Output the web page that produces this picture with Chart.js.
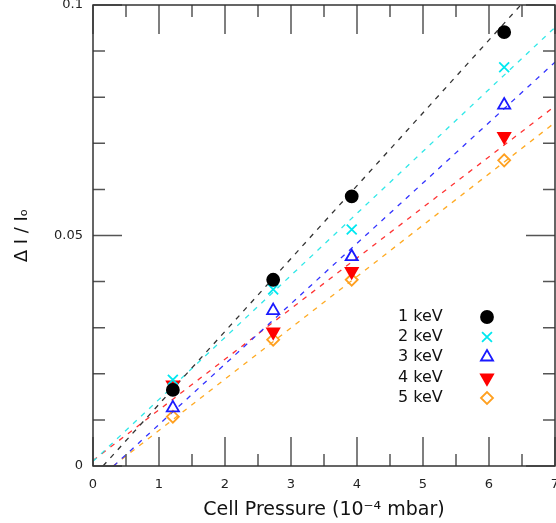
<!DOCTYPE html>
<html>
<head>
<meta charset="utf-8">
<script src="https://cdn.jsdelivr.net/npm/chart.js@4/dist/chart.umd.min.js"></script>
<style>
  html, body { margin: 0; padding: 0; background: #fff; }
  #wrap { width: 556px; height: 523px; position: relative; }
</style>
</head>
<body>
<div id="wrap"><canvas id="chart"></canvas></div>
<script>
// measured pressures (10^-4 mbar)
const pressures = [1.21, 2.73, 3.92, 6.23];

// Delta I / I0 for each beam energy
const labels = ['1 keV', '2 keV', '3 keV', '4 keV', '5 keV'];
const kev1 = [0.0165, 0.0404, 0.0585, 0.0941];
const kev2 = [0.0187, 0.0383, 0.0513, 0.0865];
const kev3 = [0.0126, 0.0337, 0.0454, 0.0783];
const kev4 = [0.0176, 0.0291, 0.0422, 0.0715];
const kev5 = [0.0107, 0.0274, 0.0404, 0.0663];

// linear fits
const fitSlopes = [0.0158, 0.01345, 0.0131, 0.01098, 0.01113];
const fitIntercepts = [-0.0024, 0.0010, -0.0041, 0.0012, -0.0034];

const xTicks = [0, 1, 2, 3, 4, 5, 6, 7];
const yTicks = [0, 0.05, 0.1];

const series = [kev1, kev2, kev3, kev4, kev5];
const pointColors = ['#000000', '#00e8f0', '#1a1aff', '#ff0000', '#ffa020'];
const lineColors = ['#333333', '#30e8e8', '#3333ff', '#ff3333', '#ffaa22'];
const styles = [
  { pointStyle: 'circle', radius: 6, fill: true, rotation: 0 },
  { pointStyle: 'crossRot', radius: 7, fill: false, rotation: 0 },
  { pointStyle: 'triangle', radius: 7, fill: false, rotation: 0 },
  { pointStyle: 'triangle', radius: 7, fill: true, rotation: 180 },
  { pointStyle: 'rectRot', radius: 6, fill: false, rotation: 0 }
];

const xMax = 7;

const datasets = [];

// dashed fit lines first, so markers sit on top
series.forEach(function (vals, i) {
  const m = fitSlopes[i];
  const b = fitIntercepts[i];
  const x0 = Math.max(0, -b / m);
  datasets.push({
    type: 'line',
    data: [{ x: x0, y: m * x0 + b }, { x: xMax, y: m * xMax + b }],
    borderColor: lineColors[i],
    borderWidth: 1.3,
    borderDash: [5, 6],
    pointRadius: 0,
    fill: false,
    order: 10
  });
});

series.forEach(function (vals, i) {
  const s = styles[i];
  datasets.push({
    type: 'scatter',
    label: labels[i],
    data: pressures.map((p, k) => ({ x: p, y: vals[k] })),
    pointStyle: s.pointStyle,
    pointRadius: s.radius,
    pointRotation: s.rotation,
    pointBorderColor: pointColors[i],
    pointBackgroundColor: s.fill ? pointColors[i] : 'rgba(0,0,0,0)',
    pointBorderWidth: 1.8,
    order: 1
  });
});

// frame with inward ticks on all four sides
const framePlugin = {
  id: 'frame',
  afterDatasetsDraw(chart) {
    const ctx = chart.ctx;
    const a = chart.chartArea;
    const xs = chart.scales.x;
    const ys = chart.scales.y;
    ctx.save();
    ctx.strokeStyle = '#555';
    ctx.lineWidth = 1.5;
    ctx.beginPath();
    for (let v = 0; v <= xMax + 0.001; v += 0.5) {
      const px = xs.getPixelForValue(v);
      const len = Math.abs(v - Math.round(v)) < 0.01 ? 29 : 12;
      ctx.moveTo(px, a.bottom); ctx.lineTo(px, a.bottom - len);
      ctx.moveTo(px, a.top); ctx.lineTo(px, a.top + len);
    }
    for (let k = 0; k <= 10; k++) {
      const v = k / 100;
      const py = ys.getPixelForValue(v);
      const len = k % 5 === 0 ? 29 : 12;
      ctx.moveTo(a.left, py); ctx.lineTo(a.left + len, py);
      ctx.moveTo(a.right, py); ctx.lineTo(a.right - len, py);
    }
    ctx.stroke();
    ctx.strokeStyle = '#333';
    ctx.strokeRect(a.left, a.top, a.right - a.left, a.bottom - a.top);
    ctx.restore();
  }
};

// key in the lower right of the plot
const keyPlugin = {
  id: 'key',
  afterDraw(chart) {
    const ctx = chart.ctx;
    const rows = [317, 337, 357, 378, 398];
    ctx.save();
    ctx.font = '16px "DejaVu Sans"';
    ctx.textBaseline = 'middle';
    labels.forEach(function (lab, i) {
      ctx.fillStyle = '#111';
      ctx.fillText(lab, 398, rows[i]);
      const s = styles[i];
      ctx.strokeStyle = pointColors[i];
      ctx.fillStyle = s.fill ? pointColors[i] : 'rgba(0,0,0,0)';
      ctx.lineWidth = 1.8;
      Chart.helpers.drawPoint(ctx, {
        pointStyle: s.pointStyle,
        radius: s.radius,
        rotation: s.rotation,
        borderWidth: 1.8
      }, 487, rows[i]);
    });
    ctx.restore();
  }
};

const ctx = document.getElementById('chart').getContext('2d');

const myChart = new Chart(ctx, {
  data: { datasets: datasets },
  plugins: [framePlugin, keyPlugin],
  options: {
    responsive: true,
    maintainAspectRatio: false,
    animation: false,
    layout: {
      autoPadding: false,
      padding: { top: 5, right: 1, left: 0, bottom: 0 }
    },
    plugins: {
      legend: { display: false },
      tooltip: { enabled: false }
    },
    scales: {
      x: {
        type: 'linear',
        min: 0,
        max: xMax,
        grid: { display: false, drawTicks: false },
        border: { display: false },
        afterBuildTicks: function (scale) {
          scale.ticks = xTicks.map(v => ({ value: v }));
        },
        afterFit: function (scale) {
          scale.height = 57;
          scale.paddingLeft = 0;
          scale.paddingRight = 0;
        },
        ticks: {
          padding: 11,
          color: '#222',
          font: { family: 'DejaVu Sans', size: 13 },
          maxRotation: 0
        },
        title: {
          display: true,
          text: 'Cell Pressure (10\u207B\u2074 mbar)',
          color: '#111',
          font: { family: 'DejaVu Sans', size: 19 },
          padding: { top: 0, bottom: 2 }
        }
      },
      y: {
        type: 'linear',
        min: 0,
        max: 0.1,
        grid: { display: false, drawTicks: false },
        border: { display: false },
        afterBuildTicks: function (scale) {
          scale.ticks = yTicks.map(v => ({ value: v }));
        },
        afterFit: function (scale) {
          scale.width = 93;
          scale.paddingTop = 0;
          scale.paddingBottom = 0;
        },
        ticks: {
          padding: 10,
          color: '#222',
          font: { family: 'DejaVu Sans', size: 13 },
          callback: function (v) { return String(v); }
        },
        title: {
          display: true,
          text: '\u0394 I / I\u2092',
          color: '#111',
          font: { family: 'DejaVu Sans', size: 18 },
          padding: { top: 12, bottom: 0 }
        }
      }
    }
  }
});
</script>
</body>
</html>
